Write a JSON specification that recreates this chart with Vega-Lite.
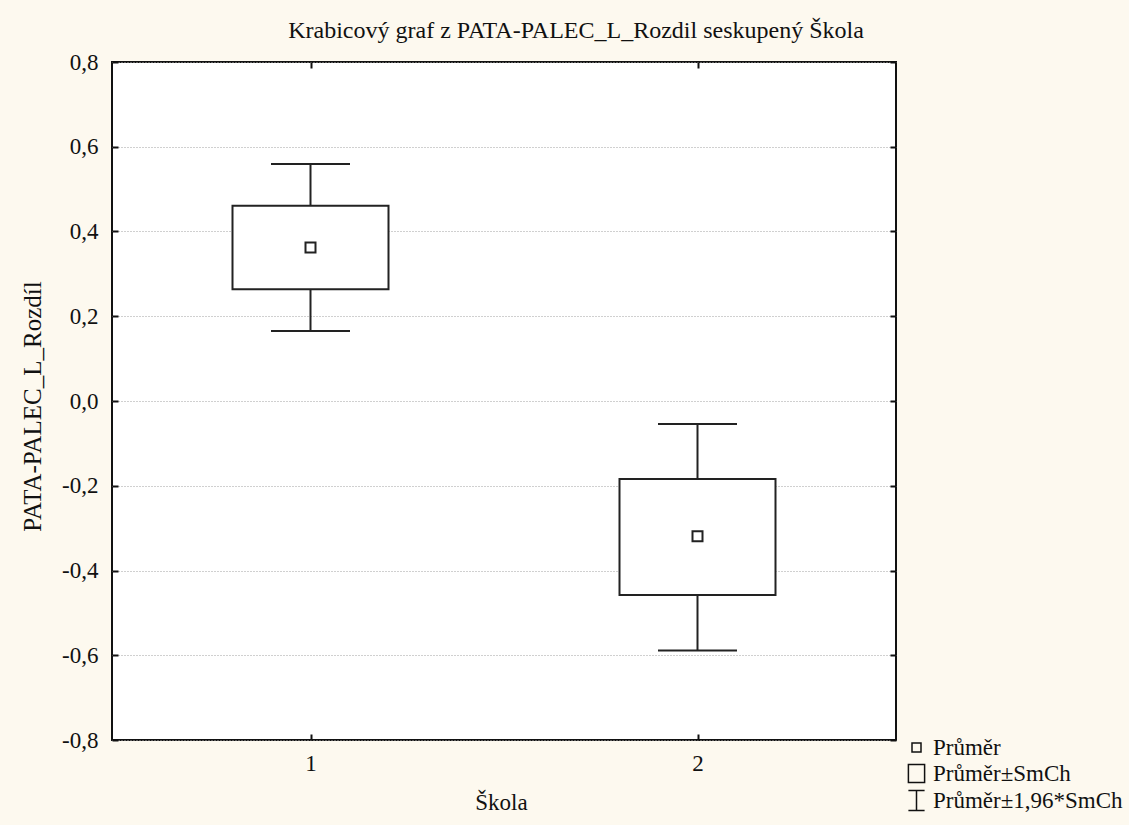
{
  "$schema": "https://vega.github.io/schema/vega-lite/v6.json",
  "width": 784,
  "height": 678,
  "autosize": {"type": "none"},
  "padding": {"left": 112, "top": 62, "right": 233, "bottom": 85},
  "background": "#fdf9ef",
  "view": {"fill": "white", "stroke": "#111", "strokeWidth": 2},
  "title": {
    "text": "Krabicový graf z PATA-PALEC_L_Rozdil seskupený Škola",
    "font": "Liberation Serif",
    "fontSize": 24,
    "fontWeight": "normal",
    "color": "#111",
    "anchor": "middle",
    "frame": "group",
    "baseline": "alphabetic",
    "offset": 24,
    "dx": 72,
    "dy": 35
  },
  "config": {
    "font": "Liberation Serif",
    "axis": {
      "labelFont": "Liberation Serif",
      "titleFont": "Liberation Serif",
      "labelFontSize": 23,
      "titleFontSize": 23,
      "titleFontWeight": "normal",
      "labelColor": "#111",
      "titleColor": "#111",
      "tickColor": "#111",
      "tickWidth": 2,
      "domain": false
    },
    "legend": {
      "labelFont": "Liberation Serif",
      "labelFontSize": 23,
      "labelColor": "#111"
    }
  },
  "layer": [
    {
      "data": {"name": "stats", "values": [
        {"skola": 1, "mean": 0.362, "se_lo": 0.264, "se_hi": 0.461, "ci_lo": 0.165, "ci_hi": 0.559},
        {"skola": 2, "mean": -0.319, "se_lo": -0.458, "se_hi": -0.184, "ci_lo": -0.589, "ci_hi": -0.054}
      ]},
      "resolve": {"axis": {"x": "independent", "y": "independent"}},
      "layer": [
        {
          "mark": {"type": "rule", "color": "#222", "strokeWidth": 2},
          "encoding": {
            "x": {"field": "skola", "type": "quantitative", "scale": {"domain": [0.5, 2.5], "nice": false, "zero": false},
              "axis": {"orient": "bottom", "values": [1, 2], "format": "d", "grid": false, "tickSize": -6, "labelPadding": 18,
                "title": "Škola", "titleX": 389, "titleY": 62, "titleBaseline": "middle", "titleAlign": "center"}},
            "y": {"field": "ci_lo", "type": "quantitative", "scale": {"domain": [-0.8, 0.8], "nice": false, "zero": false},
              "axis": {"orient": "left", "values": [-0.8, -0.6, -0.4, -0.2, 0, 0.2, 0.4, 0.6, 0.8],
                "labelExpr": "replace(replace(format(datum.value, '.1f'), '.', ','), '−', '-')",
                "grid": true, "gridDash": [1, 2], "gridColor": "#a0a0a0", "gridWidth": 1,
                "tickSize": -6, "labelPadding": 20,
                "title": "PATA-PALEC_L_Rozdíl", "titleFontSize": 25, "titleX": -80, "titleY": 344, "titleAngle": 270, "titleBaseline": "middle", "titleAlign": "center"}},
            "y2": {"field": "ci_hi"}
          }
        },
        {
          "mark": {"type": "tick", "orient": "horizontal", "color": "#222", "size": 79, "thickness": 2, "opacity": 1},
          "encoding": {
            "x": {"field": "skola", "type": "quantitative", "axis": null},
            "y": {"field": "ci_lo", "type": "quantitative", "axis": null}
          }
        },
        {
          "mark": {"type": "tick", "orient": "horizontal", "color": "#222", "size": 79, "thickness": 2, "opacity": 1},
          "encoding": {
            "x": {"field": "skola", "type": "quantitative", "axis": null},
            "y": {"field": "ci_hi", "type": "quantitative", "axis": null}
          }
        },
        {
          "mark": {"type": "bar", "size": 156, "fill": "white", "stroke": "#222", "strokeWidth": 2},
          "encoding": {
            "x": {"field": "skola", "type": "quantitative", "axis": null},
            "y": {"field": "se_lo", "type": "quantitative", "axis": null},
            "y2": {"field": "se_hi"}
          }
        },
        {
          "mark": {"type": "point", "shape": "square", "size": 100, "filled": false, "stroke": "#222", "strokeWidth": 2, "opacity": 1},
          "encoding": {
            "x": {"field": "skola", "type": "quantitative", "axis": null},
            "y": {"field": "mean", "type": "quantitative", "axis": null}
          }
        },
        {
          "mark": {"type": "rule", "color": "#111", "strokeWidth": 0},
          "encoding": {
            "x": {"field": "skola", "type": "quantitative",
              "axis": {"orient": "top", "values": [1, 2], "labels": false, "grid": false, "tickSize": -6, "title": null}},
            "y": {"field": "mean", "type": "quantitative",
              "axis": {"orient": "right", "values": [-0.8, -0.6, -0.4, -0.2, 0, 0.2, 0.4, 0.6, 0.8], "labels": false, "grid": false, "tickSize": -6, "title": null}}
          }
        }
      ]
    },
    {
      "data": {"name": "legend", "values": [
        {"item": "Průměr"},
        {"item": "Průměr±SmCh"},
        {"item": "Průměr±1,96*SmCh"}
      ]},
      "mark": {"type": "point", "opacity": 0, "filled": false},
      "encoding": {
        "shape": {
          "field": "item", "type": "nominal",
          "scale": {
            "domain": ["Průměr", "Průměr±SmCh", "Průměr±1,96*SmCh"],
            "range": ["M-0.5,-0.5H0.5V0.5H-0.5Z", "M-0.9,-1H0.9V1H-0.9Z", "M-0.9,-1.1H0.9M0,-1.1V1.1M-0.9,1.1H0.9"]
          },
          "legend": {
            "orient": "none", "legendX": 793, "legendY": 674, "title": null, "padding": 0,
            "symbolSize": 324, "symbolStrokeColor": "#111", "symbolStrokeWidth": 1.5, "symbolFillColor": "transparent",
            "symbolOpacity": 1, "rowPadding": 1, "labelOffset": 5,
            "labelFont": "Liberation Serif", "labelFontSize": 23, "labelColor": "#111", "labelLimit": 400
          }
        }
      }
    }
  ]
}
